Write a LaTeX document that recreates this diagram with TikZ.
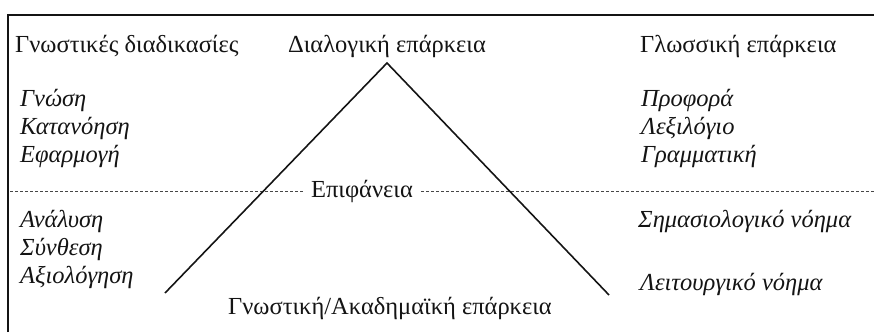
\documentclass[tikz,border=0pt]{standalone}
\usepackage{fontspec}
\setmainfont{Liberation Serif}
\usetikzlibrary{positioning}
\definecolor{figInk}{RGB}{20,20,20}
\definecolor{figDash}{RGB}{70,70,70}

\begin{document}
\begin{tikzpicture}[x=1pt,y=-1pt,
  every node/.style={font=\fontsize{24.5}{28}\selectfont,text=figInk,inner sep=0pt},
  head/.style={anchor=west},
  item/.style={anchor=west,font=\fontsize{24.5}{28}\selectfont\itshape},
  edge/.style={draw=figInk,line width=1.6pt},
  frame/.style={draw=figInk,line width=1.3pt},
  level/.style={draw=figDash,line width=0.8pt,dash pattern=on 3pt off 2pt}
]
\useasboundingbox (0,0) rectangle (874,332);
% frame (cut off at right and bottom)
\coordinate (FL) at (8,15);
\coordinate (FB) at (8,332);
\coordinate (FR) at (874,15);
\draw[frame] (FB) -- (FL) -- (FR);
% headings
\node[head] (cog) at (15,46) {Γνωστικές διαδικασίες};
\node (dial) at (387,46) {Διαλογική επάρκεια};
\node[head] (ling) at (640,46) {Γλωσσική επάρκεια};
% left list
\node[item] (L1) at (20,100) {Γνώση};
\node[item] (L2) at (20,128) {Κατανόηση};
\node[item] (L3) at (20,156) {Εφαρμογή};
\node[item] (L4) at (20,221) {Ανάλυση};
\node[item] (L5) at (20,249) {Σύνθεση};
\node[item] (L6) at (20,277) {Αξιολόγηση};
% right list
\node[item] (R1) at (641,100) {Προφορά};
\node[item] (R2) at (641,128) {Λεξιλόγιο};
\node[item] (R3) at (641,156) {Γραμματική};
\node[item] (R4) at (638,221) {Σημασιολογικό νόημα};
\node[item] (R5) at (640,284) {Λειτουργικό νόημα};
% surface line
\node (surf) at (362,191) {Επιφάνεια};
\coordinate (SL) at (10,191);
\coordinate (SR) at (874,191);
\draw[level] (SL) -- ([xshift=-8pt]surf.west);
\draw[level] ([xshift=8pt]surf.east) -- (SR);
% triangle
\coordinate (apex) at (387,63);
\coordinate (baseL) at (165,293);
\coordinate (baseR) at (609,295);
\draw[edge] (baseL) -- (apex) -- (baseR);
\node (acad) at (390,308) {Γνωστική/Ακαδημαϊκή επάρκεια};
\end{tikzpicture}
\end{document}
